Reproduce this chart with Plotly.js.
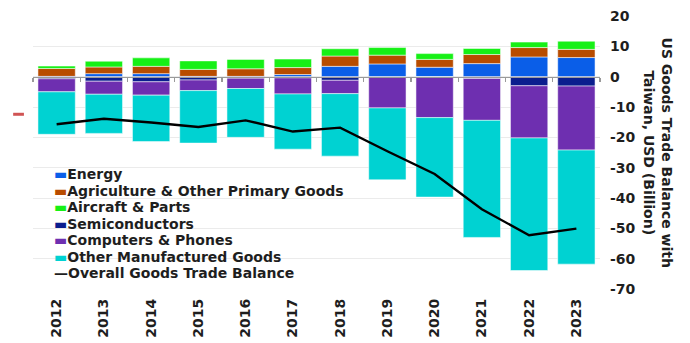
<!DOCTYPE html>
<html>
<head>
<meta charset="utf-8">
<script src="https://cdn.plot.ly/plotly-3.0.1.min.js"></script>
<style>
  html, body { margin: 0; padding: 0; background: #ffffff; }
  #chart { width: 690px; height: 343px; }
</style>
</head>
<body>
<div id="chart"></div>
<script>
// US goods trade balance with Taiwan by product group, USD billion
const years = ["2012", "2013", "2014", "2015", "2016", "2017", "2018", "2019", "2020", "2021", "2022", "2023"];

const energy         = [0.1, 1.0, 1.0, 0.1, 0.1, 0.7, 3.4, 4.2, 3.1, 4.3, 6.5, 6.3];
const agriculture    = [2.6, 2.2, 2.4, 2.3, 2.5, 2.3, 3.4, 2.9, 2.6, 3.0, 3.1, 2.7];
const aircraft       = [0.8, 1.9, 2.8, 2.8, 3.1, 2.8, 2.4, 2.5, 1.9, 2.0, 1.8, 2.7];
const semiconductors = [-0.7, -1.5, -1.7, -1.1, -0.5, -0.4, -1.2, -0.2, -0.1, -0.6, -3.0, -3.1];
const computers      = [-4.3, -4.3, -4.4, -3.5, -3.4, -5.3, -4.4, -10.1, -13.4, -13.8, -17.2, -21.1];
const otherGoods     = [-14.0, -12.9, -15.3, -17.3, -16.1, -18.2, -20.6, -23.7, -26.2, -38.6, -43.7, -37.6];
const overall        = [-15.7, -13.9, -15.1, -16.6, -14.4, -18.1, -16.8, -24.6, -32.1, -43.7, -52.3, -50.1];

const seriesNames = [
  "Energy",
  "Agriculture & Other Primary Goods",
  "Aircraft & Parts",
  "Semiconductors",
  "Computers & Phones",
  "Other Manufactured Goods"
];
const lineName = "Overall Goods Trade Balance";
const yTicks = [20, 10, 0, -10, -20, -30, -40, -50, -60, -70];

const seriesValues = [energy, agriculture, aircraft, semiconductors, computers, otherGoods];
const seriesColors = ["#0a5ee8", "#b84c00", "#16f016", "#0b1e8e", "#6e2fb0", "#00d2d2"];

const FONT = "DejaVu Sans, Verdana, sans-serif";
const INK = "#1e1e1e";
const yRange = [-70, 20];

const traces = seriesValues.map((vals, i) => ({
  type: "bar",
  name: seriesNames[i],
  x: years,
  y: vals,
  marker: {
    color: seriesColors[i],
    line: { color: "rgba(255,255,255,0.65)", width: 0.8 }
  },
  showlegend: false,
  hoverinfo: "name+y"
}));

traces.push({
  type: "scatter",
  mode: "lines",
  name: lineName,
  x: years,
  y: overall,
  line: { color: "#000000", width: 2.4 },
  showlegend: false
});

// carrier for the zero baseline axis with boundary ticks
traces.push({
  type: "scatter",
  x: [],
  y: [],
  xaxis: "x2",
  yaxis: "y",
  showlegend: false,
  hoverinfo: "skip"
});

const boundaries = years.map((_, i) => i - 0.5).concat([years.length - 0.5]);
const zeroPos = (0 - yRange[0]) / (yRange[1] - yRange[0]);

// legend rows, drawn as text with coloured markers
const legendX = 0.034;
const legendTop = 0.421;
const legendStep = 0.0604;
const annotations = seriesNames.map((name, i) => ({
  xref: "paper", yref: "paper",
  x: legendX, y: legendTop - i * legendStep,
  xanchor: "left", yanchor: "middle",
  showarrow: false,
  text: "<span style='color:" + seriesColors[i] + "'>▬</span>" + name,
  font: { family: FONT, size: 14, color: INK, weight: "bold" }
}));
annotations.push({
  xref: "paper", yref: "paper",
  x: legendX, y: legendTop - seriesNames.length * legendStep,
  xanchor: "left", yanchor: "middle",
  showarrow: false,
  text: "—" + lineName,
  font: { family: FONT, size: 14, color: INK, weight: "bold" }
});
// vertical axis title on the right, reading top to bottom
annotations.push({
  xref: "paper", yref: "paper",
  x: 1.104, y: 0.5,
  xanchor: "center", yanchor: "middle",
  showarrow: false,
  textangle: 90,
  align: "center",
  text: "US Goods Trade Balance with<br>Taiwan, USD (Billion)",
  font: { family: FONT, size: 14, color: INK, weight: "bold" }
});

const layout = {
  width: 690,
  height: 343,
  margin: { l: 33, r: 90, t: 16, b: 54 },
  paper_bgcolor: "#ffffff",
  plot_bgcolor: "#ffffff",
  barmode: "relative",
  bargap: 0.21,
  showlegend: false,
  font: { family: FONT, size: 14, color: INK },
  xaxis: {
    type: "category",
    range: [-0.5, years.length - 0.5],
    tickangle: -90,
    ticks: "",
    showgrid: false,
    zeroline: false,
    showline: false,
    ticklabelstandoff: 6,
    tickfont: { family: FONT, size: 14, color: INK, weight: "bold" }
  },
  xaxis2: {
    overlaying: "x",
    anchor: "free",
    position: zeroPos,
    range: [-0.5, years.length - 0.5],
    showgrid: false,
    zeroline: false,
    showline: true,
    linecolor: "#9a9a9a",
    linewidth: 1.5,
    ticks: "outside",
    ticklen: 4,
    tickwidth: 1.2,
    tickcolor: "#9a9a9a",
    tickvals: boundaries,
    showticklabels: false
  },
  yaxis: {
    side: "right",
    range: yRange,
    tickvals: yTicks,
    ticktext: yTicks.map(String),
    showgrid: true,
    gridcolor: "#ebebeb",
    gridwidth: 1,
    zeroline: false,
    showline: false,
    ticks: "",
    ticklabelstandoff: 9,
    tickfont: { family: FONT, size: 14, color: INK, weight: "bold" }
  },
  shapes: [{
    type: "line",
    xref: "paper", yref: "y",
    x0: -0.035, x1: -0.016,
    y0: -12.4, y1: -12.4,
    line: { color: "#d05454", width: 3 }
  }],
  annotations: annotations
};

Plotly.newPlot("chart", traces, layout, { displayModeBar: false, staticPlot: true });
</script>
</body>
</html>
